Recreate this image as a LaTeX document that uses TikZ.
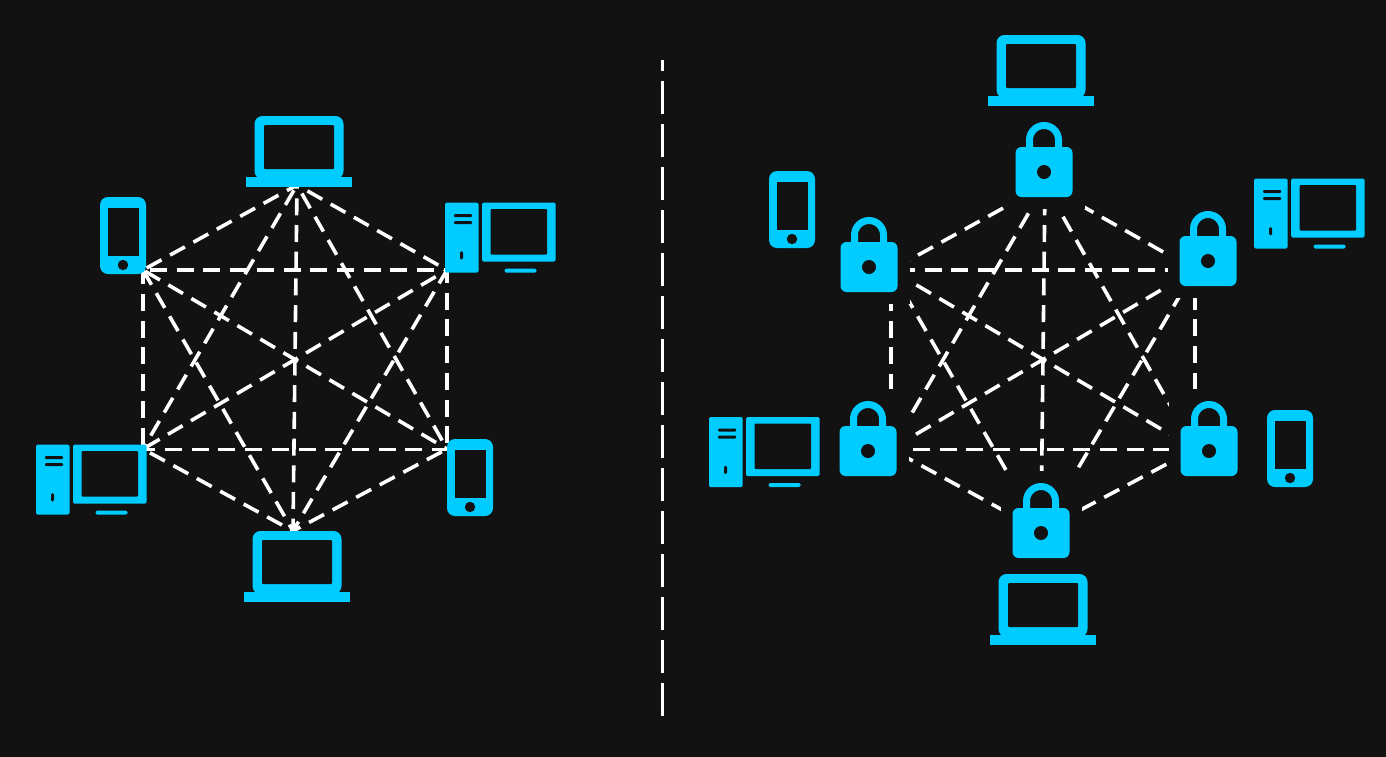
\documentclass[tikz,border=0pt]{standalone}
\definecolor{bgdark}{HTML}{121212}
\definecolor{iconblue}{HTML}{00CCFF}
\tikzset{
  link/.style={white,line width=3.6pt,dash pattern=on 17pt off 9.7pt},
  thinlink/.style={link,line width=3pt},
  divider/.style={white,line width=3pt,dash pattern=on 33pt off 10pt,dash phase=22pt},
  icon/.style={fill=iconblue,draw=none},
  hole/.style={fill=bgdark,draw=none},
  pics/laptop/.style={code={
    \fill[icon,rounded corners=8pt] (-44.5,-71) rectangle (44.5,-8);
    \fill[icon] (-53,-10) rectangle (53,0);
    \fill[hole,rounded corners=1pt] (-35,-62) rectangle (35,-18);
  }},
  pics/phone/.style={code={
    \fill[icon,rounded corners=8pt] (-23,-38.5) rectangle (23,38.5);
    \fill[hole] (-15.5,-28) rectangle (15.5,20);
    \fill[hole] (0,29.5) circle (5.2);
  }},
  pics/desktop/.style={code={
    \fill[icon,rounded corners=1.5pt] (0,0) rectangle (33.5,70);
    \fill[icon,rounded corners=1.5pt] (37,0) rectangle (110.5,59);
    \fill[hole,rounded corners=1pt] (45.5,6.5) rectangle (102,52);
    \fill[icon,rounded corners=1.5pt] (59.5,66) rectangle (91.5,70);
    \fill[hole,rounded corners=1pt] (9,11.5) rectangle (27,14.5);
    \fill[hole,rounded corners=1pt] (9,18.5) rectangle (27,21.5);
    \fill[hole,rounded corners=1.5pt] (15,48.5) rectangle (18,57);
  }},
  pics/lock/.style={code={
    \fill[bgdark] (-40.5,-62) rectangle (40.5,37);
    \draw[iconblue,line width=7pt] (-14.5,-20) -- (-14.5,-32) arc (180:360:14.5) -- (14.5,-20);
    \fill[icon,rounded corners=6pt] (-28.5,-25) rectangle (28.5,25);
    \fill[hole] (0,0) circle (7);
  }}
}
\begin{document}
\begin{tikzpicture}[x=1pt,y=-1pt,line join=round]
\useasboundingbox (0,0) rectangle (1386,756);
\fill[bgdark] (-5,-5) rectangle (1391,761);
% open network
\coordinate (lt) at (297,185);
\coordinate (ltl) at (143,270);
\coordinate (ltr) at (447,270);
\coordinate (lbl) at (143,449);
\coordinate (lbr) at (447,449);
\coordinate (lb) at (293,531);
% locked network
\coordinate (rt) at (1045,185);
\coordinate (rtl) at (891,270);
\coordinate (rtr) at (1195,270);
\coordinate (rbl) at (891,449);
\coordinate (rbr) at (1195,449);
\coordinate (rb) at (1041,531);
\foreach \n in {l,r}{
\foreach \a/\b/\p in {tl/t/22.5,tl/tr/19.7,t/b/13.4,tl/bl/2.7,tl/br/24,tl/b/0,t/bl/20.6,t/tr/14.7,t/br/16.9,tr/br/4,tr/bl/13.6,tr/b/1.5,bl/b/18.8,br/b/20.9}
\draw[link,dash phase=\p] (\n\a)--(\n\b);
\draw[thinlink,dash phase=4.7] (\n bl)--(\n br);
}
\pic at (299,187) {laptop};
\pic at (297,602) {laptop};
\pic at (123,235.5) {phone};
\pic at (470,477.5) {phone};
\pic at (445,202.5) {desktop};
\pic at (36,444.5) {desktop};
% divider
\coordinate (dtop) at (662,60);
\coordinate (dbot) at (662,717);
\draw[divider] (dtop)--(dbot);
\foreach \x/\y in {1044/172,869/267,1208/261,868/451,1209/451,1041/533}
\pic at (\x,\y) {lock};
\pic at (1041,106) {laptop};
\pic at (1043,645) {laptop};
\pic at (792,209.5) {phone};
\pic at (1290,448.5) {phone};
\pic at (1254,178.5) {desktop};
\pic at (709,417) {desktop};
\end{tikzpicture}
\end{document}
